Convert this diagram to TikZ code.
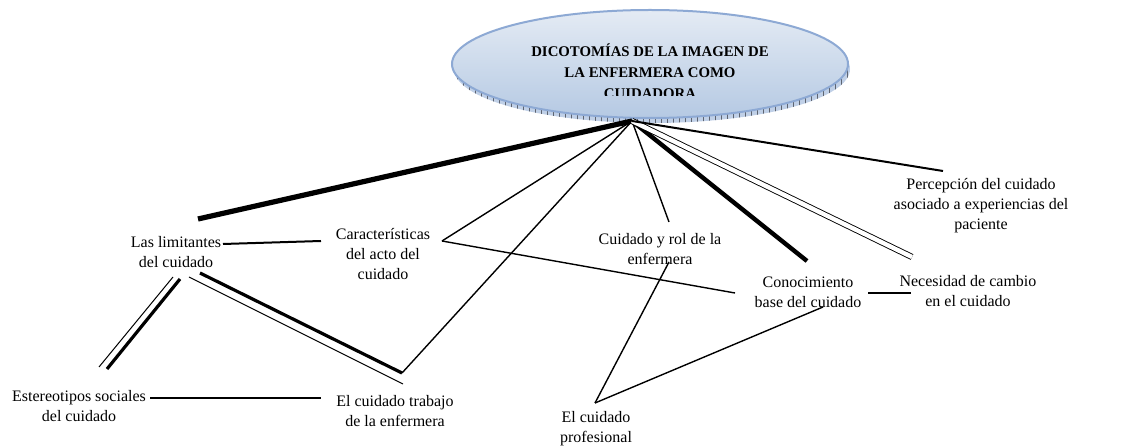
\documentclass[tikz,border=0pt]{standalone}
\usepackage{fontspec}
\setmainfont{Liberation Serif}
\usetikzlibrary{positioning,patterns}
\definecolor{TitleEdge}{HTML}{8DA9D4}
\definecolor{TitleTop}{HTML}{E4EBF4}
\definecolor{TitleBottom}{HTML}{B5C9E3}
\definecolor{ShadowInk}{HTML}{5E6470}

\begin{document}
\begin{tikzpicture}[x=0.5pt,y=-0.5pt,
    every node/.style={font=\fontsize{8}{10}\selectfont,align=center,inner sep=1pt},
    link/.style={line width=0.7pt},
    mid/.style={line width=1pt},
    heavy/.style={line width=2.2pt},
    heaviest/.style={line width=2.6pt},
    fine/.style={line width=0.5pt},
    pair/.style={double,double distance=2.2pt,line width=0.45pt}]
    \useasboundingbox (0,0) rectangle (1142,448);

    % central ellipse with its hatched shadow
    \fill[TitleEdge!55] (652,69) ellipse (198 and 54);
    \fill[pattern=vertical lines,pattern color=ShadowInk] (652,69) ellipse (198 and 54);
    \draw[TitleEdge,line width=1pt,top color=TitleTop,bottom color=TitleBottom] (650,64) ellipse (198 and 54);
    \begin{scope}
      \clip (450,20) rectangle (850,96);
      \node[font=\bfseries\fontsize{7.4}{10.6}\selectfont] (title) at (650,71)
        {DICOTOMÍAS DE LA IMAGEN DE\\LA ENFERMERA COMO\\CUIDADORA};
    \end{scope}

    % topics
    \node (lim) at (176,252) {Las limitantes\\del cuidado};
    \node (car) at (383,254) {Características\\del acto del\\cuidado};
    \node (est) at (79,406) {Estereotipos sociales\\del cuidado};
    \node (tra) at (395,411) {El cuidado trabajo\\de la enfermera};
    \node (rol) at (660,249) {Cuidado y rol de la\\enfermera};
    \node (con) at (808,292) {Conocimiento\\base del cuidado};
    \node (nec) at (968,291) {Necesidad de cambio\\en el cuidado};
    \node (per) at (981,206) {Percepción del cuidado\\asociado a experiencias del\\paciente};
    \node (pro) at (596,429) {El cuidado\\profesional};

    % line ends
    \coordinate (hub) at (632,121);
    \coordinate (lim-top) at (198,219);
    \coordinate (lim-east) at (223,244);
    \coordinate (car-west) at (321,241);
    \coordinate (car-east) at (442,241);
    \coordinate (con-west) at (735,293);
    \coordinate (con-top) at (807,261);
    \coordinate (con-east) at (868,293);
    \coordinate (con-low) at (823,307);
    \coordinate (nec-west) at (911,293);
    \coordinate (nec-top) at (912,257);
    \coordinate (per-top) at (943,171);
    \coordinate (rol-top) at (669,222);
    \coordinate (rol-low) at (669,262);
    \coordinate (pro-top) at (595,403);
    \coordinate (tra-top) at (402,373);
    \coordinate (tra-low) at (403,384);
    \coordinate (est-east) at (150,398);
    \coordinate (tra-west) at (321,398);

    % spokes from the title
    \draw[heaviest] (hub) -- (lim-top);
    \draw[link] (hub) -- (car-east);
    \draw[link] (hub) -- (tra-top);
    \draw[link] (hub) -- (rol-top);
    \draw[heavy] (hub) -- (con-top);
    \draw[pair] (hub) -- (nec-top);
    \draw[mid] (hub) -- (per-top);

    % cross links
    \draw[mid] (lim-east) -- (car-west);
    \draw[link] (car-east) -- (con-west);
    \draw[fine] (173,277) -- (99,367);
    \draw[line width=1.6pt] (180,279) -- (107,369);
    \draw[fine] (189,277) -- (tra-low);
    \draw[line width=1.6pt] (200,273) -- (tra-top);
    \draw[mid] (est-east) -- (tra-west);
    \draw[link] (rol-low) -- (pro-top);
    \draw[link] (con-low) -- (pro-top);
    \draw[mid] (con-east) -- (nec-west);
  \end{tikzpicture}
\end{document}
